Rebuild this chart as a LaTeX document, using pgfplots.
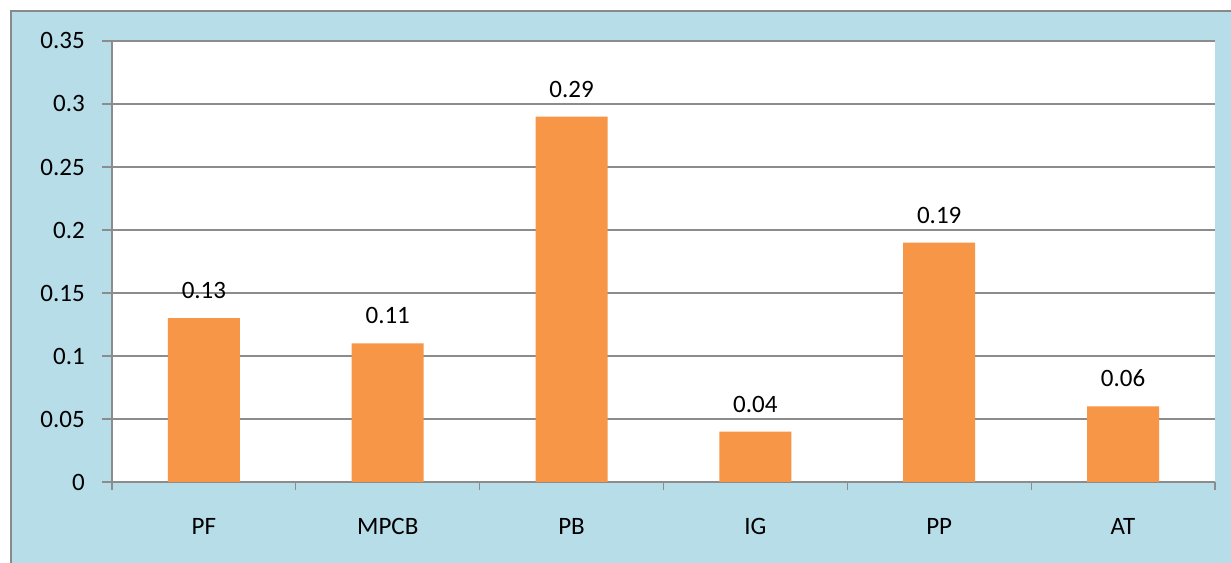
\documentclass[border=0pt]{standalone}
\usepackage{fontspec}
\setmainfont{Carlito}
\usepackage{pgfplots}
\pgfplotsset{compat=1.18}

\definecolor{chartbg}{HTML}{B7DDE8}
\definecolor{framegray}{HTML}{898989}
\definecolor{gridgray}{HTML}{8C8C8C}
\definecolor{barorange}{HTML}{F79646}

\begin{document}
\begin{tikzpicture}[x=1bp,y=1bp,font=\fontsize{25bp}{30bp}\selectfont]
  % page and chart area
  \useasboundingbox (0,0) rectangle (1231,563);
  \fill[white] (0,0) rectangle (1231,563);
  \fill[chartbg] (11,0) rectangle (1231,552);
  \draw[framegray,line width=2bp] (11,0) -- (11,552) -- (1231,552);

  \begin{axis}[
    at={(112bp,81bp)}, anchor=south west,
    scale only axis,
    width=1103bp, height=441bp,
    xmin=-0.5, xmax=5.5,
    ymin=0, ymax=0.35,
    ytick={0,0.05,...,0.35},
    yticklabels={0,0.05,0.1,0.15,0.2,0.25,0.3,0.35},
    xtick={0,...,5},
    xticklabels={PF,MPCB,PB,IG,PP,AT},
    minor xtick={-0.5,0.5,...,5.5},
    axis x line*=bottom,
    axis y line*=left,
    axis line style={gridgray, line width=1.2bp, -},
    tick style={gridgray, line width=1.2bp},
    major x tick style={draw=none},
    tick align=outside,
    major tick length=10bp,
    minor tick length=8bp,
    ymajorgrids,
    grid style={gridgray, line width=1.2bp},
    axis background/.style={fill=white},
    /pgf/number format/assume math mode=true,
    yticklabel style={anchor=east, inner sep=0pt, xshift=-17bp},
    xticklabel style={anchor=north, inner sep=0pt, yshift=-26bp},
    ybar, bar width=72bp,
    nodes near coords,
    nodes near coords style={anchor=south, inner sep=0pt, yshift=19bp},
    point meta=explicit symbolic,
    clip=false,
  ]
    \addplot[fill=barorange, draw=none] coordinates {
      (0,0.13) [0.13]
      (1,0.11) [0.11]
      (2,0.29) [0.29]
      (3,0.04) [0.04]
      (4,0.19) [0.19]
      (5,0.06) [0.06]
    };
  \end{axis}
\end{tikzpicture}
\end{document}
